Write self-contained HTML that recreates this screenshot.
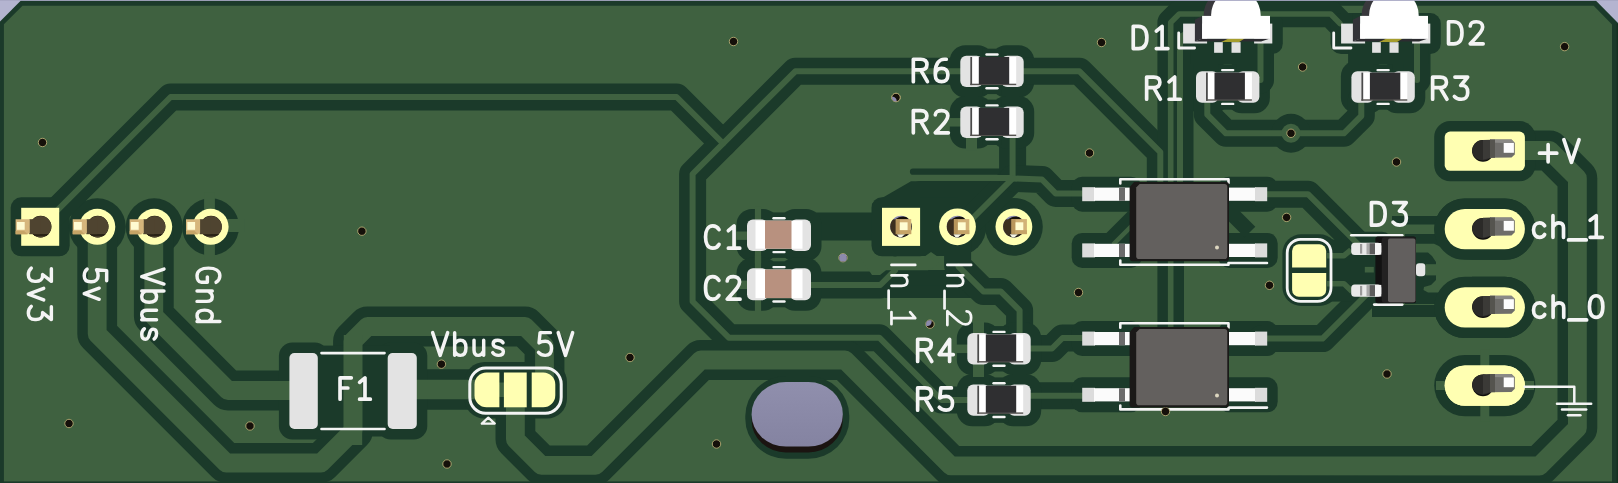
<!DOCTYPE html>
<html><head><meta charset="utf-8"><title>PCB</title>
<style>html,body{margin:0;padding:0;background:#3f6140;font-family:"Liberation Sans",sans-serif;}svg{display:block}</style>
</head><body>
<svg width="1618" height="483" viewBox="0 0 1618 483">
<rect x="0" y="0" width="1618" height="483" fill="#3f6140"/>
<g fill="none" stroke="#1b3a2a" stroke-linejoin="round" stroke-linecap="round">
<polygon points="0.0,20.7 20.7,0.0 1596.0,0.0 1618.0,22.3 1618.0,483.0 1612.0,483.0 1612.0,24.5 1593.7,5.7 22.5,5.7 3.9,24.3 3.9,483.0 0.0,483.0" stroke="none" fill="#1b3a2a"/>
<rect x="10.7" y="197.3" width="59.0" height="59.0" rx="10.5" stroke="none" fill="#1b3a2a"/>
<circle cx="97.3" cy="226.8" r="28.5" fill="#1b3a2a" stroke="none"/>
<circle cx="154.2" cy="226.8" r="28.5" fill="#1b3a2a" stroke="none"/>
<circle cx="210.6" cy="226.8" r="28.5" fill="#1b3a2a" stroke="none"/>
<polyline points="40.2,227.4 170.6,97.0 676.6,97.0 723.1,143.5" stroke-width="27.0" stroke-linecap="round"/>
<polyline points="966.0,71.3 795.3,71.3 692.6,174.0 692.6,301.5 728.8,337.7 879.3,337.7 941.6,400.0 975.0,400.0" stroke-width="27.0" stroke-linecap="round"/>
<polyline points="97.2,227.0 97.2,334.0 226.2,463.0 321.0,463.0 353.0,431.0 353.0,341.0 367.5,326.5 525.0,326.5 544.5,346.0 544.5,390.0" stroke-width="39.8" stroke-linecap="round"/>
<polyline points="153.8,227.0 153.8,316.0 228.0,390.5 303.0,390.5" stroke-width="39.8" stroke-linecap="round"/>
<polyline points="402.0,389.5 487.0,389.5" stroke-width="40.6" stroke-linecap="round"/>
<polyline points="515.4,392.0 515.4,439.3 541.4,465.3 595.5,465.3 700.8,360.0 845.0,360.0 950.8,465.8 1539.4,466.0 1577.4,428.0 1577.4,178.2 1549.7,150.5 1485.0,150.5" stroke-width="39.8" stroke-linecap="round"/>
<polyline points="800.0,226.4 890.0,226.4" stroke-width="28.0" stroke-linecap="butt"/>
<polyline points="800.0,285.0 880.3,285.0 895.0,270.3" stroke-width="27.0" stroke-linecap="round"/>
<polyline points="895.0,270.3 915.0,283.0" stroke-width="27.0" stroke-linecap="round"/>
<rect x="905.0" y="270.0" width="67.0" height="28.0" rx="0.0" stroke="none" fill="#1b3a2a"/>
<rect x="278.9" y="342.6" width="49.4" height="96.9" rx="13.5" stroke="none" fill="#1b3a2a"/>
<rect x="377.2" y="342.6" width="50.1" height="96.9" rx="13.5" stroke="none" fill="#1b3a2a"/>
<rect x="316.0" y="345.6" width="74.0" height="90.9" rx="0.0" stroke="none" fill="#1b3a2a"/>
<rect x="464.5" y="362.0" width="102.5" height="56.5" rx="20.0" stroke="none" fill="#1b3a2a"/>
<rect x="871.5" y="197.2" width="59.1" height="59.1" rx="10.5" stroke="none" fill="#1b3a2a"/>
<circle cx="957.5" cy="226.8" r="28.9" fill="#1b3a2a" stroke="none"/>
<circle cx="1013.9" cy="226.8" r="28.9" fill="#1b3a2a" stroke="none"/>
<polyline points="903.0,214.0 921.0,194.6 996.0,194.6" stroke-width="27.0" stroke-linecap="round"/>
<polygon points="872.5,203.5 911.0,181.3 930.0,181.3 930.0,215.0 872.5,215.0" stroke="none" fill="#1b3a2a"/>
<polyline points="913.0,171.7 1002.0,171.7" stroke-width="6.2" stroke-linecap="round"/>
<polyline points="1012.6,132.0 1012.6,178.5 966.0,225.0" stroke-width="27.0" stroke-linecap="round"/>
<polyline points="1012.6,178.5 1042.0,179.5 1055.6,193.4 1090.0,193.4" stroke-width="27.0" stroke-linecap="round"/>
<polyline points="957.6,226.7 957.6,265.6 983.4,291.4 1000.7,291.4 1019.6,310.3 1019.6,345.0" stroke-width="27.0" stroke-linecap="round"/>
<rect x="920.0" y="197.5" width="38.0" height="58.5" rx="0.0" stroke="none" fill="#1b3a2a"/>
<polyline points="1020.0,348.5 1052.0,348.5 1062.5,338.0 1090.0,338.0" stroke-width="27.0" stroke-linecap="round"/>
<polyline points="1020.0,395.8 1090.0,395.8" stroke-width="27.0" stroke-linecap="round"/>
<rect x="949.8" y="45.2" width="43.5" height="52.4" rx="15.5" stroke="none" fill="#1b3a2a"/>
<rect x="990.7" y="45.2" width="43.5" height="52.4" rx="15.5" stroke="none" fill="#1b3a2a"/>
<rect x="982.8" y="48.7" width="18.4" height="45.4" rx="0.0" stroke="none" fill="#1b3a2a"/>
<rect x="949.8" y="96.1" width="43.5" height="52.4" rx="15.5" stroke="none" fill="#1b3a2a"/>
<rect x="990.7" y="96.1" width="43.5" height="52.4" rx="15.5" stroke="none" fill="#1b3a2a"/>
<rect x="982.8" y="99.6" width="18.4" height="45.4" rx="0.0" stroke="none" fill="#1b3a2a"/>
<rect x="956.8" y="322.6" width="43.5" height="52.4" rx="15.5" stroke="none" fill="#1b3a2a"/>
<rect x="997.7" y="322.6" width="43.5" height="52.4" rx="15.5" stroke="none" fill="#1b3a2a"/>
<rect x="989.8" y="326.1" width="18.4" height="45.4" rx="0.0" stroke="none" fill="#1b3a2a"/>
<rect x="956.8" y="373.9" width="43.5" height="52.4" rx="15.5" stroke="none" fill="#1b3a2a"/>
<rect x="997.7" y="373.9" width="43.5" height="52.4" rx="15.5" stroke="none" fill="#1b3a2a"/>
<rect x="989.8" y="377.4" width="18.4" height="45.4" rx="0.0" stroke="none" fill="#1b3a2a"/>
<rect x="1185.5" y="60.8" width="43.5" height="52.4" rx="15.5" stroke="none" fill="#1b3a2a"/>
<rect x="1226.4" y="60.8" width="43.5" height="52.4" rx="15.5" stroke="none" fill="#1b3a2a"/>
<rect x="1218.5" y="64.3" width="18.4" height="45.4" rx="0.0" stroke="none" fill="#1b3a2a"/>
<rect x="1340.9" y="60.8" width="43.5" height="52.4" rx="15.5" stroke="none" fill="#1b3a2a"/>
<rect x="1381.8" y="60.8" width="43.5" height="52.4" rx="15.5" stroke="none" fill="#1b3a2a"/>
<rect x="1373.9" y="64.3" width="18.4" height="45.4" rx="0.0" stroke="none" fill="#1b3a2a"/>
<rect x="736.5" y="208.9" width="42.0" height="52.5" rx="15.5" stroke="none" fill="#1b3a2a"/>
<rect x="779.5" y="208.9" width="42.0" height="52.5" rx="15.5" stroke="none" fill="#1b3a2a"/>
<rect x="768.0" y="212.4" width="22.0" height="45.5" rx="0.0" stroke="none" fill="#1b3a2a"/>
<rect x="736.5" y="257.8" width="42.0" height="53.0" rx="15.5" stroke="none" fill="#1b3a2a"/>
<rect x="779.5" y="257.8" width="42.0" height="53.0" rx="15.5" stroke="none" fill="#1b3a2a"/>
<rect x="768.0" y="261.3" width="22.0" height="46.0" rx="0.0" stroke="none" fill="#1b3a2a"/>
<polyline points="1018.0,71.3 1079.5,71.3 1160.3,152.1 1160.3,185.0" stroke-width="27.0" stroke-linecap="round"/>
<polyline points="1170.7,330.0 1170.7,22.5 1179.2,14.0 1330.7,14.0 1340.0,23.5" stroke-width="26.6" stroke-linecap="round"/>
<polyline points="1180.0,185.0 1180.0,37.0 1186.0,34.0" stroke-width="27.0" stroke-linecap="round"/>
<polyline points="1175.3,30.0 1175.3,185.0" stroke-width="3.4" stroke-linecap="butt"/>
<rect x="1071.7" y="176.7" width="69.8" height="35.0" rx="10.5" stroke="none" fill="#1b3a2a"/>
<rect x="1218.5" y="176.7" width="59.2" height="35.0" rx="10.5" stroke="none" fill="#1b3a2a"/>
<rect x="1071.7" y="232.9" width="69.8" height="35.0" rx="10.5" stroke="none" fill="#1b3a2a"/>
<rect x="1218.5" y="232.9" width="59.2" height="35.0" rx="10.5" stroke="none" fill="#1b3a2a"/>
<rect x="1071.7" y="321.1" width="69.8" height="35.0" rx="10.5" stroke="none" fill="#1b3a2a"/>
<rect x="1218.5" y="321.1" width="59.2" height="35.0" rx="10.5" stroke="none" fill="#1b3a2a"/>
<rect x="1071.7" y="377.3" width="69.8" height="35.0" rx="10.5" stroke="none" fill="#1b3a2a"/>
<rect x="1218.5" y="377.3" width="59.2" height="35.0" rx="10.5" stroke="none" fill="#1b3a2a"/>
<polyline points="1108.0,250.5 1138.0,220.5" stroke-width="27.0" stroke-linecap="butt"/>
<polyline points="1226.0,208.0 1250.0,232.0" stroke-width="15.0" stroke-linecap="butt"/>
<polyline points="1262.0,194.2 1308.0,194.2 1363.3,249.5" stroke-width="27.0" stroke-linecap="round"/>
<polyline points="1207.3,100.0 1207.3,114.7 1225.9,133.3 1343.9,133.3 1361.3,116.0 1361.3,100.0" stroke-width="27.0" stroke-linecap="round"/>
<circle cx="1291" cy="133.3" r="19.5" fill="#1b3a2a" stroke="none"/>
<polyline points="1260.5,38.0 1260.5,80.0" stroke-width="27.0" stroke-linecap="round"/>
<polyline points="1417.0,38.0 1417.0,80.0" stroke-width="27.0" stroke-linecap="round"/>
<rect x="1172.6" y="13.1" width="42.0" height="40.9" rx="10.5" stroke="none" fill="#1b3a2a"/>
<rect x="1253.6" y="13.1" width="29.2" height="40.9" rx="10.5" stroke="none" fill="#1b3a2a"/>
<rect x="1203.6" y="31.7" width="47.5" height="31.6" rx="10.5" stroke="none" fill="#1b3a2a"/>
<rect x="1194.1" y="13.1" width="70.0" height="36.9" rx="0.0" stroke="none" fill="#1b3a2a"/>
<rect x="1190.1" y="44.0" width="80.0" height="20.0" rx="0.0" stroke="none" fill="#1b3a2a"/>
<rect x="1330.6" y="13.1" width="42.0" height="40.9" rx="10.5" stroke="none" fill="#1b3a2a"/>
<rect x="1411.6" y="13.1" width="29.2" height="40.9" rx="10.5" stroke="none" fill="#1b3a2a"/>
<rect x="1361.6" y="31.7" width="47.5" height="31.6" rx="10.5" stroke="none" fill="#1b3a2a"/>
<rect x="1352.1" y="13.1" width="70.0" height="36.9" rx="0.0" stroke="none" fill="#1b3a2a"/>
<rect x="1348.1" y="44.0" width="80.0" height="20.0" rx="0.0" stroke="none" fill="#1b3a2a"/>
<rect x="1340.2" y="231.8" width="52.3" height="34.0" rx="10.5" stroke="none" fill="#1b3a2a"/>
<rect x="1340.2" y="273.7" width="52.3" height="34.0" rx="10.5" stroke="none" fill="#1b3a2a"/>
<rect x="1282.4" y="234.3" width="56.1" height="71.7" rx="19.0" stroke="none" fill="#1b3a2a"/>
<rect x="1434.2" y="121.1" width="101.2" height="60.2" rx="16.0" stroke="none" fill="#1b3a2a"/>
<rect x="1434.2" y="198.4" width="101.2" height="61.4" rx="30.7" stroke="none" fill="#1b3a2a"/>
<rect x="1434.2" y="276.7" width="101.2" height="61.4" rx="30.7" stroke="none" fill="#1b3a2a"/>
<rect x="1434.2" y="354.9" width="101.2" height="61.4" rx="30.7" stroke="none" fill="#1b3a2a"/>
<polyline points="1392.0,220.3 1450.0,220.3" stroke-width="8.6" stroke-linecap="butt"/>
<polyline points="1262.0,338.6 1322.5,338.6 1369.1,292.0" stroke-width="27.0" stroke-linecap="round"/>
<polyline points="1372.0,311.0 1440.0,311.0" stroke-width="12.0" stroke-linecap="butt"/>
<rect x="1405.0" y="234.0" width="47.0" height="70.0" rx="0.0" stroke="none" fill="#1b3a2a"/>
<rect x="1336.0" y="243.0" width="42.0" height="55.0" rx="0.0" stroke="none" fill="#1b3a2a"/>
<polyline points="1330.0,249.5 1352.0,249.5" stroke-width="20.0" stroke-linecap="butt"/>
<polyline points="1330.0,291.6 1352.0,291.6" stroke-width="20.0" stroke-linecap="butt"/>
<rect x="745.3" y="376" width="104" height="82.7" rx="41" ry="40" fill="#1b3a2a" stroke="none"/>
<polyline points="885.0,291.8 950.0,291.8" stroke-width="12.5" stroke-linecap="butt"/>
</g>
<g fill="none" stroke="#3f6140" stroke-linejoin="round" stroke-linecap="round">
<polyline points="209.5,192.8 209.5,260.8" stroke-width="10.8" stroke-linecap="butt"/>
<polyline points="210.6,225.6 244.6,225.6" stroke-width="13.0" stroke-linecap="butt"/>
<polyline points="40.2,227.4 170.6,97.0 676.6,97.0 723.1,143.5" stroke-width="6.0" stroke-linecap="round"/>
<polyline points="966.0,71.3 795.3,71.3 692.6,174.0 692.6,301.5 728.8,337.7 879.3,337.7 941.6,400.0 975.0,400.0" stroke-width="6.0" stroke-linecap="round"/>
<polyline points="97.2,227.0 97.2,334.0 226.2,463.0 321.0,463.0 353.0,431.0 353.0,341.0 367.5,326.5 525.0,326.5 544.5,346.0 544.5,390.0" stroke-width="18.8" stroke-linecap="round"/>
<polyline points="153.8,227.0 153.8,316.0 228.0,390.5 303.0,390.5" stroke-width="18.8" stroke-linecap="round"/>
<polyline points="402.0,389.5 487.0,389.5" stroke-width="19.6" stroke-linecap="round"/>
<polyline points="515.4,392.0 515.4,439.3 541.4,465.3 595.5,465.3 700.8,360.0 845.0,360.0 950.8,465.8 1539.4,466.0 1577.4,428.0 1577.4,178.2 1549.7,150.5 1485.0,150.5" stroke-width="18.8" stroke-linecap="round"/>
<polyline points="800.0,285.0 880.3,285.0 895.0,270.3" stroke-width="6.0" stroke-linecap="round"/>
<polygon points="860.0,256.9 924.0,256.9 931.0,252.0 941.0,259.0 936.0,266.0 928.0,270.2 886.0,270.2 880.0,275.0 872.0,275.0" stroke="none" fill="#3f6140"/>
<polyline points="353.0,335.0 353.0,445.0" stroke-width="18.4" stroke-linecap="butt"/>
<polyline points="1012.6,132.0 1012.6,178.5 966.0,225.0" stroke-width="6.0" stroke-linecap="round"/>
<polyline points="1012.6,178.5 1042.0,179.5 1055.6,193.4 1090.0,193.4" stroke-width="6.0" stroke-linecap="round"/>
<polyline points="905.0,178.0 1012.0,178.0" stroke-width="6.2" stroke-linecap="butt"/>
<polyline points="958.6,266.6 983.4,291.4 1000.7,291.4 1019.6,310.3 1019.6,345.0" stroke-width="6.0" stroke-linecap="round"/>
<polyline points="1020.0,348.5 1052.0,348.5 1062.5,338.0 1090.0,338.0" stroke-width="6.0" stroke-linecap="round"/>
<polyline points="1020.0,395.8 1090.0,395.8" stroke-width="6.0" stroke-linecap="round"/>
<polyline points="947.8,122.3 962.3,122.3" stroke-width="8.5" stroke-linecap="butt"/>
<polyline points="971.5,136.0 971.5,150.5" stroke-width="11.0" stroke-linecap="butt"/>
<polyline points="978.5,335.1 978.5,320.6" stroke-width="11.0" stroke-linecap="butt"/>
<polyline points="954.8,348.8 969.3,348.8" stroke-width="8.5" stroke-linecap="butt"/>
<polyline points="978.5,362.5 978.5,377.0" stroke-width="11.0" stroke-linecap="butt"/>
<polyline points="758.0,221.4 758.0,206.9" stroke-width="6.2" stroke-linecap="butt"/>
<polyline points="758.0,248.9 758.0,263.4" stroke-width="6.2" stroke-linecap="butt"/>
<polyline points="734.5,235.7 749.0,235.7" stroke-width="8.4" stroke-linecap="butt"/>
<polyline points="758.0,270.3 758.0,255.8" stroke-width="6.2" stroke-linecap="butt"/>
<polyline points="758.0,298.3 758.0,312.8" stroke-width="6.2" stroke-linecap="butt"/>
<polyline points="734.5,284.8 749.0,284.8" stroke-width="8.4" stroke-linecap="butt"/>
<polyline points="1018.0,71.3 1079.5,71.3 1160.3,152.1 1160.3,185.0" stroke-width="6.0" stroke-linecap="round"/>
<polyline points="1170.7,330.0 1170.7,22.5 1179.2,14.0 1330.7,14.0 1340.0,23.5" stroke-width="5.6" stroke-linecap="round"/>
<polyline points="1180.0,185.0 1180.0,37.0 1186.0,34.0" stroke-width="6.0" stroke-linecap="round"/>
<polyline points="1113.0,244.7 1132.0,225.7" stroke-width="4.5" stroke-linecap="butt"/>
<polyline points="1262.0,194.2 1308.0,194.2 1363.3,249.5" stroke-width="6.0" stroke-linecap="round"/>
<polyline points="1207.3,100.0 1207.3,114.7 1225.9,133.3 1343.9,133.3 1361.3,116.0 1361.3,100.0" stroke-width="6.0" stroke-linecap="round"/>
<circle cx="1291" cy="133.3" r="9.5" fill="#3f6140" stroke="none"/>
<polyline points="1260.5,38.0 1260.5,80.0" stroke-width="6.0" stroke-linecap="round"/>
<polyline points="1417.0,38.0 1417.0,80.0" stroke-width="6.0" stroke-linecap="round"/>
<polyline points="1484.8,349.6 1484.8,421.6" stroke-width="9.0" stroke-linecap="butt"/>
<polyline points="1436.0,385.6 1534.0,385.6" stroke-width="9.0" stroke-linecap="butt"/>
<polyline points="1262.0,338.6 1322.5,338.6 1369.1,292.0" stroke-width="6.0" stroke-linecap="round"/>
<polygon points="1416.0,243.7 1434.0,243.7 1441.0,247.0 1448.0,254.0 1456.0,258.5 1472.0,260.0 1472.0,281.0 1456.0,283.0 1447.0,288.0 1440.0,292.5 1428.0,292.5 1423.5,290.0 1424.0,287.0 1431.0,285.0 1436.0,280.0 1436.0,262.0 1432.0,256.0 1428.0,252.5 1416.0,252.5" stroke="none" fill="#3f6140"/>
<rect x="1425.5" y="264.2" width="12.5" height="11.2" rx="0.0" stroke="none" fill="#3f6140"/>
<rect x="1364.8" y="266.9" width="9.0" height="5.6" rx="0.0" stroke="none" fill="#3f6140"/>
</g>
<g fill="none" stroke="#1b3a2a" stroke-linejoin="round" stroke-linecap="round">
<rect x="0" y="481.4" width="1618" height="1.6" fill="#1b3a2a" stroke="none"/>
<rect x="1439.5" y="203.7" width="90.7" height="50.9" rx="25.4" fill="none" stroke-width="10.5"/>
<rect x="1439.5" y="281.9" width="90.7" height="50.9" rx="25.4" fill="none" stroke-width="10.5"/>
</g>
<g fill="none" stroke="#3f6140" stroke-linejoin="round" stroke-linecap="round">
<rect x="498.8" y="382.5" width="5.5" height="14.5" fill="#3f6140" stroke="none"/>
<polyline points="1327,255.7 1344,255.7 1351,249.8" stroke-width="5.5" stroke-linecap="butt"/>
<polyline points="1327,283.7 1344,283.7 1352,291.4" stroke-width="5.5" stroke-linecap="butt"/>
</g>
<rect x="21.2" y="207.8" width="38.0" height="38.0" rx="0.0" fill="#ffffb2" />
<circle cx="97.3" cy="226.8" r="18.0" fill="#ffffb2" />
<circle cx="154.2" cy="226.8" r="18.0" fill="#ffffb2" />
<circle cx="210.6" cy="226.8" r="18.0" fill="#ffffb2" />
<path d="M499.4,372.5 L486.5,372.5 A12,12 0 0 0 474.5,384.5 L474.5,395.3 A12,12 0 0 0 486.5,407.3 L499.4,407.3 Z" fill="#ffffb2"/>
<rect x="503.9" y="372.5" width="22.8" height="34.8" rx="0.0" fill="#ffffb2" />
<path d="M531.7,372.5 L543.3,372.5 A12,12 0 0 1 555.3,384.5 L555.3,395.3 A12,12 0 0 1 543.3,407.3 L531.7,407.3 Z" fill="#ffffb2"/>
<rect x="882.0" y="207.8" width="38.1" height="38.1" rx="0.0" fill="#ffffb2" />
<circle cx="957.5" cy="226.8" r="18.4" fill="#ffffb2" />
<circle cx="1013.9" cy="226.8" r="18.4" fill="#ffffb2" />
<path d="M1292.1,267.5 L1292.1,251 A6.8,6.8 0 0 1 1298.9,244.2 L1319.4,244.2 A6.8,6.8 0 0 1 1326.2,251 L1326.2,267.5 Z" fill="#ffffb2"/>
<path d="M1292.1,273 L1292.1,289.9 A6.8,6.8 0 0 0 1298.9,296.7 L1319.4,296.7 A6.8,6.8 0 0 0 1326.2,289.9 L1326.2,273 Z" fill="#ffffb2"/>
<rect x="1444.7" y="131.6" width="80.2" height="39.2" rx="5.5" fill="#ffffb2" />
<rect x="1444.7" y="208.9" width="80.2" height="40.4" rx="20.2" fill="#ffffb2" />
<rect x="1444.7" y="287.2" width="80.2" height="40.4" rx="20.2" fill="#ffffb2" />
<rect x="1444.7" y="365.4" width="80.2" height="40.4" rx="20.2" fill="#ffffb2" />
<rect x="1444.7" y="365.4" width="80.2" height="40.4" rx="20.2" fill="#ffffb2" />
<polyline points="321.5,353.1 384.5,353.1" fill="none" stroke="#f4f4f4" stroke-width="2.6" stroke-linecap="round" stroke-linejoin="round"/>
<polyline points="321.5,429.0 384.5,429.0" fill="none" stroke="#f4f4f4" stroke-width="2.6" stroke-linecap="round" stroke-linejoin="round"/>
<g transform="translate(336.12,377.84) scale(0.9782,1.0155)" fill="none" stroke="#f4f4f4" stroke-width="3.68" stroke-linecap="round" stroke-linejoin="round" vector-effect="non-scaling-stroke"><path vector-effect="non-scaling-stroke" transform="translate(0.00,0)" d="M4,21 L4,0 L15.5,0 M4,10 L12,10"/><path vector-effect="non-scaling-stroke" transform="translate(19.00,0)" d="M5,4.5 L10.5,0 L10.5,21 M5,21 L16,21"/></g>
<rect x="469.8" y="368.1" width="91.4" height="45.2" rx="16" fill="none" stroke="#f4f4f4" stroke-width="3"/>
<polygon points="481.8,423.6 494.8,423.6 488.3,417.6" fill="none" stroke="#f4f4f4" stroke-width="2.3" stroke-linejoin="round"/>
<g transform="translate(429.94,332.63) scale(1.0750,1.0826)" fill="none" stroke="#f4f4f4" stroke-width="3.46" stroke-linecap="round" stroke-linejoin="round" vector-effect="non-scaling-stroke"><path vector-effect="non-scaling-stroke" transform="translate(0.00,0)" d="M2.5,0 L9.5,21 L16.5,0"/><path vector-effect="non-scaling-stroke" transform="translate(19.00,0)" d="M4,0 L4,21 M4,10.5 C5,8.5 7,7 9.3,7 C12.5,7 14.5,9.5 14.5,14 C14.5,18.5 12.5,21 9.3,21 C7,21 5,19.5 4,17.5"/><path vector-effect="non-scaling-stroke" transform="translate(37.00,0)" d="M4,7 L4,16 C4,19.5 5.3,21 8,21 C10,21 11.8,19.5 13,17 M13,7 L13,21"/><path vector-effect="non-scaling-stroke" transform="translate(55.00,0)" d="M13,9.3 C12,7.8 10.3,7 8,7 C5.6,7 3.8,8 3.8,10.2 C3.8,12.3 5.6,13.2 8,13.7 C11,14.3 13.3,15 13.3,17.5 C13.3,20 11,21 8.6,21 C6.2,21 4.4,20 3.4,18.5"/></g>
<g transform="translate(534.91,332.63) scale(1.0344,1.0826)" fill="none" stroke="#f4f4f4" stroke-width="3.46" stroke-linecap="round" stroke-linejoin="round" vector-effect="non-scaling-stroke"><path vector-effect="non-scaling-stroke" transform="translate(0.00,0)" d="M15,0 L5,0 L4,9.5 C5.5,8.5 7.5,8 10,8 C13.5,8 16,10.5 16,14 L16,15 C16,19 13.5,21 10,21 C7,21 5,20 3.5,18.3"/><path vector-effect="non-scaling-stroke" transform="translate(20.00,0)" d="M2.5,0 L9.5,21 L16.5,0"/></g>
<g transform="matrix(0,1.0605,-1.0969,0,51.37,264.42)" fill="none" stroke="#f4f4f4" stroke-width="3.46" stroke-linecap="round" stroke-linejoin="round" vector-effect="non-scaling-stroke"><path vector-effect="non-scaling-stroke" transform="translate(0.00,0)" d="M4,0 L16,0 L9.5,8 L11,8 C14,8 16,10.5 16,14 L16,15 C16,19 13.5,21 10,21 C7,21 5,20 3.5,18.3"/><path vector-effect="non-scaling-stroke" transform="translate(20.00,0)" d="M2.5,7 L8,21 L13.5,7"/><path vector-effect="non-scaling-stroke" transform="translate(36.00,0)" d="M4,0 L16,0 L9.5,8 L11,8 C14,8 16,10.5 16,14 L16,15 C16,19 13.5,21 10,21 C7,21 5,20 3.5,18.3"/></g>
<g transform="matrix(0,1.0045,-1.0683,0,106.67,265.62)" fill="none" stroke="#f4f4f4" stroke-width="3.46" stroke-linecap="round" stroke-linejoin="round" vector-effect="non-scaling-stroke"><path vector-effect="non-scaling-stroke" transform="translate(0.00,0)" d="M15,0 L5,0 L4,9.5 C5.5,8.5 7.5,8 10,8 C13.5,8 16,10.5 16,14 L16,15 C16,19 13.5,21 10,21 C7,21 5,20 3.5,18.3"/><path vector-effect="non-scaling-stroke" transform="translate(20.00,0)" d="M2.5,7 L8,21 L13.5,7"/></g>
<g transform="matrix(0,1.0659,-1.0588,0,163.97,266.47)" fill="none" stroke="#f4f4f4" stroke-width="3.46" stroke-linecap="round" stroke-linejoin="round" vector-effect="non-scaling-stroke"><path vector-effect="non-scaling-stroke" transform="translate(0.00,0)" d="M2.5,0 L9.5,21 L16.5,0"/><path vector-effect="non-scaling-stroke" transform="translate(19.00,0)" d="M4,0 L4,21 M4,10.5 C5,8.5 7,7 9.3,7 C12.5,7 14.5,9.5 14.5,14 C14.5,18.5 12.5,21 9.3,21 C7,21 5,19.5 4,17.5"/><path vector-effect="non-scaling-stroke" transform="translate(37.00,0)" d="M4,7 L4,16 C4,19.5 5.3,21 8,21 C10,21 11.8,19.5 13,17 M13,7 L13,21"/><path vector-effect="non-scaling-stroke" transform="translate(55.00,0)" d="M13,9.3 C12,7.8 10.3,7 8,7 C5.6,7 3.8,8 3.8,10.2 C3.8,12.3 5.6,13.2 8,13.7 C11,14.3 13.3,15 13.3,17.5 C13.3,20 11,21 8.6,21 C6.2,21 4.4,20 3.4,18.5"/></g>
<g transform="matrix(0,1.0905,-1.0874,0,219.87,263.77)" fill="none" stroke="#f4f4f4" stroke-width="3.46" stroke-linecap="round" stroke-linejoin="round" vector-effect="non-scaling-stroke"><path vector-effect="non-scaling-stroke" transform="translate(0.00,0)" d="M17,3.5 C15.5,1 13.5,0 11,0 C6.5,0 4,4 4,10.5 C4,17 6.5,21 11,21 C14,21 17,19.5 17,17 L17,11.5 L12,11.5"/><path vector-effect="non-scaling-stroke" transform="translate(21.00,0)" d="M4,7 L4,21 M4,11 C5.3,8.5 7,7 9.3,7 C12,7 13.5,8.5 13.5,12 L13.5,21"/><path vector-effect="non-scaling-stroke" transform="translate(39.00,0)" d="M14,0 L14,21 M14,10.5 C13,8.5 11,7 8.7,7 C5.5,7 3.5,9.5 3.5,14 C3.5,18.5 5.5,21 8.7,21 C11,21 13,19.5 14,17.5"/></g>
<polyline points="986.5,54.5 997.5,54.5" fill="none" stroke="#f4f4f4" stroke-width="2.4" stroke-linecap="round" stroke-linejoin="round"/>
<polyline points="986.5,88.3 997.5,88.3" fill="none" stroke="#f4f4f4" stroke-width="2.4" stroke-linecap="round" stroke-linejoin="round"/>
<polyline points="986.5,105.4 997.5,105.4" fill="none" stroke="#f4f4f4" stroke-width="2.4" stroke-linecap="round" stroke-linejoin="round"/>
<polyline points="986.5,139.2 997.5,139.2" fill="none" stroke="#f4f4f4" stroke-width="2.4" stroke-linecap="round" stroke-linejoin="round"/>
<polyline points="993.5,331.9 1004.5,331.9" fill="none" stroke="#f4f4f4" stroke-width="2.4" stroke-linecap="round" stroke-linejoin="round"/>
<polyline points="993.5,365.7 1004.5,365.7" fill="none" stroke="#f4f4f4" stroke-width="2.4" stroke-linecap="round" stroke-linejoin="round"/>
<polyline points="993.5,383.2 1004.5,383.2" fill="none" stroke="#f4f4f4" stroke-width="2.4" stroke-linecap="round" stroke-linejoin="round"/>
<polyline points="993.5,417.0 1004.5,417.0" fill="none" stroke="#f4f4f4" stroke-width="2.4" stroke-linecap="round" stroke-linejoin="round"/>
<polyline points="1222.2,70.1 1233.2,70.1" fill="none" stroke="#f4f4f4" stroke-width="2.4" stroke-linecap="round" stroke-linejoin="round"/>
<polyline points="1222.2,103.9 1233.2,103.9" fill="none" stroke="#f4f4f4" stroke-width="2.4" stroke-linecap="round" stroke-linejoin="round"/>
<polyline points="1377.6,70.1 1388.6,70.1" fill="none" stroke="#f4f4f4" stroke-width="2.4" stroke-linecap="round" stroke-linejoin="round"/>
<polyline points="1377.6,103.9 1388.6,103.9" fill="none" stroke="#f4f4f4" stroke-width="2.4" stroke-linecap="round" stroke-linejoin="round"/>
<g transform="translate(909.15,59.24) scale(1.0462,1.0679)" fill="none" stroke="#f4f4f4" stroke-width="3.68" stroke-linecap="round" stroke-linejoin="round" vector-effect="non-scaling-stroke"><path vector-effect="non-scaling-stroke" transform="translate(0.00,0)" d="M4,21 L4,0 L11,0 C15.5,0 17,2.5 17,5 C17,7.8 15.5,10 11,10 L4,10 M11,10 L17.5,21"/><path vector-effect="non-scaling-stroke" transform="translate(21.00,0)" d="M14.5,0 L12.5,0 C8,0 4,4 4,12 L4,15 C4,19 6.5,21 10,21 C13.5,21 16,19 16,15 L16,14.3 C16,10.5 13.5,8.5 10,8.5 C6.5,8.5 4,11 4,14.5"/></g>
<g transform="translate(909.16,110.54) scale(1.0455,1.0631)" fill="none" stroke="#f4f4f4" stroke-width="3.68" stroke-linecap="round" stroke-linejoin="round" vector-effect="non-scaling-stroke"><path vector-effect="non-scaling-stroke" transform="translate(0.00,0)" d="M4,21 L4,0 L11,0 C15.5,0 17,2.5 17,5 C17,7.8 15.5,10 11,10 L4,10 M11,10 L17.5,21"/><path vector-effect="non-scaling-stroke" transform="translate(21.00,0)" d="M4,4 C4,1.5 6.5,0 10,0 C13.5,0 16,1.8 16,5 C16,8 14,10.5 4,21 L16.5,21"/></g>
<g transform="translate(913.45,339.24) scale(1.0478,1.0583)" fill="none" stroke="#f4f4f4" stroke-width="3.68" stroke-linecap="round" stroke-linejoin="round" vector-effect="non-scaling-stroke"><path vector-effect="non-scaling-stroke" transform="translate(0.00,0)" d="M4,21 L4,0 L11,0 C15.5,0 17,2.5 17,5 C17,7.8 15.5,10 11,10 L4,10 M11,10 L17.5,21"/><path vector-effect="non-scaling-stroke" transform="translate(21.00,0)" d="M13.5,21 L13.5,0 L3.5,14.5 L17,14.5"/></g>
<g transform="translate(913.42,387.94) scale(1.0553,1.0583)" fill="none" stroke="#f4f4f4" stroke-width="3.68" stroke-linecap="round" stroke-linejoin="round" vector-effect="non-scaling-stroke"><path vector-effect="non-scaling-stroke" transform="translate(0.00,0)" d="M4,21 L4,0 L11,0 C15.5,0 17,2.5 17,5 C17,7.8 15.5,10 11,10 L4,10 M11,10 L17.5,21"/><path vector-effect="non-scaling-stroke" transform="translate(21.00,0)" d="M15,0 L5,0 L4,9.5 C5.5,8.5 7.5,8 10,8 C13.5,8 16,10.5 16,14 L16,15 C16,19 13.5,21 10,21 C7,21 5,20 3.5,18.3"/></g>
<g transform="translate(1142.56,77.04) scale(1.0189,1.0583)" fill="none" stroke="#f4f4f4" stroke-width="3.68" stroke-linecap="round" stroke-linejoin="round" vector-effect="non-scaling-stroke"><path vector-effect="non-scaling-stroke" transform="translate(0.00,0)" d="M4,21 L4,0 L11,0 C15.5,0 17,2.5 17,5 C17,7.8 15.5,10 11,10 L4,10 M11,10 L17.5,21"/><path vector-effect="non-scaling-stroke" transform="translate(21.00,0)" d="M5,4.5 L10.5,0 L10.5,21 M5,21 L16,21"/></g>
<g transform="translate(1428.39,77.04) scale(1.0614,1.0583)" fill="none" stroke="#f4f4f4" stroke-width="3.68" stroke-linecap="round" stroke-linejoin="round" vector-effect="non-scaling-stroke"><path vector-effect="non-scaling-stroke" transform="translate(0.00,0)" d="M4,21 L4,0 L11,0 C15.5,0 17,2.5 17,5 C17,7.8 15.5,10 11,10 L4,10 M11,10 L17.5,21"/><path vector-effect="non-scaling-stroke" transform="translate(21.00,0)" d="M4,0 L16,0 L9.5,8 L11,8 C14,8 16,10.5 16,14 L16,15 C16,19 13.5,21 10,21 C7,21 5,20 3.5,18.3"/></g>
<polyline points="773.5,218.2 784.5,218.2" fill="none" stroke="#f4f4f4" stroke-width="2.4" stroke-linecap="round" stroke-linejoin="round"/>
<polyline points="773.5,252.1 784.5,252.1" fill="none" stroke="#f4f4f4" stroke-width="2.4" stroke-linecap="round" stroke-linejoin="round"/>
<polyline points="773.5,267.1 784.5,267.1" fill="none" stroke="#f4f4f4" stroke-width="2.4" stroke-linecap="round" stroke-linejoin="round"/>
<polyline points="773.5,301.5 784.5,301.5" fill="none" stroke="#f4f4f4" stroke-width="2.4" stroke-linecap="round" stroke-linejoin="round"/>
<g transform="translate(701.39,225.94) scale(1.0371,1.0583)" fill="none" stroke="#f4f4f4" stroke-width="3.68" stroke-linecap="round" stroke-linejoin="round" vector-effect="non-scaling-stroke"><path vector-effect="non-scaling-stroke" transform="translate(0.00,0)" d="M17,3.5 C15.5,1 13.5,0 11,0 C6.5,0 4,4 4,10.5 C4,17 6.5,21 11,21 C13.5,21 15.5,20 17,17.5"/><path vector-effect="non-scaling-stroke" transform="translate(21.00,0)" d="M5,4.5 L10.5,0 L10.5,21 M5,21 L16,21"/></g>
<g transform="translate(701.42,276.64) scale(1.0306,1.0726)" fill="none" stroke="#f4f4f4" stroke-width="3.68" stroke-linecap="round" stroke-linejoin="round" vector-effect="non-scaling-stroke"><path vector-effect="non-scaling-stroke" transform="translate(0.00,0)" d="M17,3.5 C15.5,1 13.5,0 11,0 C6.5,0 4,4 4,10.5 C4,17 6.5,21 11,21 C13.5,21 15.5,20 17,17.5"/><path vector-effect="non-scaling-stroke" transform="translate(21.00,0)" d="M4,4 C4,1.5 6.5,0 10,0 C13.5,0 16,1.8 16,5 C16,8 14,10.5 4,21 L16.5,21"/></g>
<polyline points="1120.3,183.5 1120.3,179.2 1228.5,179.2 1228.5,183.0" fill="none" stroke="#f4f4f4" stroke-width="2.6" stroke-linecap="round" stroke-linejoin="round"/>
<polyline points="1120.3,260.5 1120.3,264.8 1228.5,264.8 1228.5,263.0 1267.0,263.0" fill="none" stroke="#f4f4f4" stroke-width="2.6" stroke-linecap="round" stroke-linejoin="round"/>
<polyline points="1120.3,327.8 1120.3,323.3 1228.5,323.3 1228.5,327.8" fill="none" stroke="#f4f4f4" stroke-width="2.6" stroke-linecap="round" stroke-linejoin="round"/>
<polyline points="1120.3,405.5 1120.3,409.4 1228.5,409.4 1228.5,407.6 1267.0,407.6" fill="none" stroke="#f4f4f4" stroke-width="2.6" stroke-linecap="round" stroke-linejoin="round"/>
<polyline points="1178.7,32.8 1178.7,48.0 1194.6,48.0" fill="none" stroke="#f4f4f4" stroke-width="2.8" stroke-linecap="round" stroke-linejoin="round"/>
<polyline points="1333.7,32.8 1333.7,48.0 1351.0,48.0" fill="none" stroke="#f4f4f4" stroke-width="2.8" stroke-linecap="round" stroke-linejoin="round"/>
<g transform="translate(1129.04,26.34) scale(1.0492,1.0583)" fill="none" stroke="#f4f4f4" stroke-width="3.68" stroke-linecap="round" stroke-linejoin="round" vector-effect="non-scaling-stroke"><path vector-effect="non-scaling-stroke" transform="translate(0.00,0)" d="M4,0 L4,21 L9,21 C14.5,21 17,17 17,10.5 C17,4 14.5,0 9,0 L4,0"/><path vector-effect="non-scaling-stroke" transform="translate(21.00,0)" d="M5,4.5 L10.5,0 L10.5,21 M5,21 L16,21"/></g>
<g transform="translate(1444.40,21.74) scale(1.0336,1.0536)" fill="none" stroke="#f4f4f4" stroke-width="3.68" stroke-linecap="round" stroke-linejoin="round" vector-effect="non-scaling-stroke"><path vector-effect="non-scaling-stroke" transform="translate(0.00,0)" d="M4,0 L4,21 L9,21 C14.5,21 17,17 17,10.5 C17,4 14.5,0 9,0 L4,0"/><path vector-effect="non-scaling-stroke" transform="translate(21.00,0)" d="M4,4 C4,1.5 6.5,0 10,0 C13.5,0 16,1.8 16,5 C16,8 14,10.5 4,21 L16.5,21"/></g>
<polyline points="1351.3,235.2 1402.3,235.2" fill="none" stroke="#f4f4f4" stroke-width="2.6" stroke-linecap="round" stroke-linejoin="round"/>
<polyline points="1374.2,304.6 1402.3,304.6" fill="none" stroke="#f4f4f4" stroke-width="2.6" stroke-linecap="round" stroke-linejoin="round"/>
<g transform="translate(1367.22,202.54) scale(1.0553,1.0774)" fill="none" stroke="#f4f4f4" stroke-width="3.68" stroke-linecap="round" stroke-linejoin="round" vector-effect="non-scaling-stroke"><path vector-effect="non-scaling-stroke" transform="translate(0.00,0)" d="M4,0 L4,21 L9,21 C14.5,21 17,17 17,10.5 C17,4 14.5,0 9,0 L4,0"/><path vector-effect="non-scaling-stroke" transform="translate(21.00,0)" d="M4,0 L16,0 L9.5,8 L11,8 C14,8 16,10.5 16,14 L16,15 C16,19 13.5,21 10,21 C7,21 5,20 3.5,18.3"/></g>
<rect x="1287.2" y="239.4" width="43.8" height="62" rx="13.5" fill="none" stroke="#f4f4f4" stroke-width="2.8"/>
<g transform="translate(1535.10,139.64) scale(1.0856,1.0821)" fill="none" stroke="#f4f4f4" stroke-width="3.68" stroke-linecap="round" stroke-linejoin="round" vector-effect="non-scaling-stroke"><path vector-effect="non-scaling-stroke" transform="translate(0.00,0)" d="M4,12.5 L20,12.5 M12,4.5 L12,20.5"/><path vector-effect="non-scaling-stroke" transform="translate(24.00,0)" d="M2.5,0 L9.5,21 L16.5,0"/></g>
<g transform="translate(1529.65,215.64) scale(1.1101,1.0345)" fill="none" stroke="#f4f4f4" stroke-width="3.68" stroke-linecap="round" stroke-linejoin="round" vector-effect="non-scaling-stroke"><path vector-effect="non-scaling-stroke" transform="translate(0.00,0)" d="M13.5,9.8 C12.5,8 11,7 9,7 C5.8,7 3.5,9.5 3.5,14 C3.5,18.5 5.8,21 9,21 C11,21 12.5,20 13.5,18.2"/><path vector-effect="non-scaling-stroke" transform="translate(17.00,0)" d="M4,0 L4,21 M4,11 C5.3,8.5 7,7 9.3,7 C12,7 13.5,8.5 13.5,12 L13.5,21"/><path vector-effect="non-scaling-stroke" transform="translate(35.00,0)" d="M0,23.5 L16,23.5"/><path vector-effect="non-scaling-stroke" transform="translate(49.50,0)" d="M5,4.5 L10.5,0 L10.5,21 M5,21 L16,21"/></g>
<g transform="translate(1529.62,295.74) scale(1.1181,1.0298)" fill="none" stroke="#f4f4f4" stroke-width="3.68" stroke-linecap="round" stroke-linejoin="round" vector-effect="non-scaling-stroke"><path vector-effect="non-scaling-stroke" transform="translate(0.00,0)" d="M13.5,9.8 C12.5,8 11,7 9,7 C5.8,7 3.5,9.5 3.5,14 C3.5,18.5 5.8,21 9,21 C11,21 12.5,20 13.5,18.2"/><path vector-effect="non-scaling-stroke" transform="translate(17.00,0)" d="M4,0 L4,21 M4,11 C5.3,8.5 7,7 9.3,7 C12,7 13.5,8.5 13.5,12 L13.5,21"/><path vector-effect="non-scaling-stroke" transform="translate(35.00,0)" d="M0,23.5 L16,23.5"/><path vector-effect="non-scaling-stroke" transform="translate(49.50,0)" d="M10,0 C6,0 4,4 4,10.5 C4,17 6,21 10,21 C14,21 16,17 16,10.5 C16,4 14,0 10,0 Z"/></g>
<polyline points="1524.6,386.7 1574.3,386.7 1574.3,403.7" fill="none" stroke="#f4f4f4" stroke-width="2.5" stroke-linecap="round" stroke-linejoin="round"/>
<polyline points="1557.0,403.7 1591.2,403.7" fill="none" stroke="#f4f4f4" stroke-width="2.5" stroke-linecap="round" stroke-linejoin="round"/>
<polyline points="1562.0,409.5 1586.2,409.5" fill="none" stroke="#f4f4f4" stroke-width="2.5" stroke-linecap="round" stroke-linejoin="round"/>
<polyline points="1568.0,415.3 1580.4,415.3" fill="none" stroke="#f4f4f4" stroke-width="2.5" stroke-linecap="round" stroke-linejoin="round"/>
<g transform="matrix(0,1.0957,-1.1319,0,915.24,260.58)" fill="none" stroke="#f4f4f4" stroke-width="2.73" stroke-linecap="round" stroke-linejoin="round" vector-effect="non-scaling-stroke"><path vector-effect="non-scaling-stroke" transform="translate(0.00,0)" d="M4,0 L4,21"/><path vector-effect="non-scaling-stroke" transform="translate(9.50,0)" d="M4,7 L4,21 M4,11 C5.3,8.5 7,7 9.3,7 C12,7 13.5,8.5 13.5,12 L13.5,21"/><path vector-effect="non-scaling-stroke" transform="translate(27.50,0)" d="M0,23.5 L16,23.5"/><path vector-effect="non-scaling-stroke" transform="translate(42.00,0)" d="M5,4.5 L10.5,0 L10.5,21 M5,21 L16,21"/></g>
<g transform="matrix(0,1.1022,-1.1319,0,971.13,260.56)" fill="none" stroke="#f4f4f4" stroke-width="2.73" stroke-linecap="round" stroke-linejoin="round" vector-effect="non-scaling-stroke"><path vector-effect="non-scaling-stroke" transform="translate(0.00,0)" d="M4,0 L4,21"/><path vector-effect="non-scaling-stroke" transform="translate(9.50,0)" d="M4,7 L4,21 M4,11 C5.3,8.5 7,7 9.3,7 C12,7 13.5,8.5 13.5,12 L13.5,21"/><path vector-effect="non-scaling-stroke" transform="translate(27.50,0)" d="M0,23.5 L16,23.5"/><path vector-effect="non-scaling-stroke" transform="translate(42.00,0)" d="M4,4 C4,1.5 6.5,0 10,0 C13.5,0 16,1.8 16,5 C16,8 14,10.5 4,21 L16.5,21"/></g>
<circle cx="42.5" cy="142.5" r="4.2" fill="#15100a" stroke="#cfc283" stroke-opacity="0.75" stroke-width="1.0"/>
<circle cx="361.9" cy="231.2" r="4.2" fill="#15100a" stroke="#cfc283" stroke-opacity="0.75" stroke-width="1.0"/>
<circle cx="69.0" cy="423.5" r="4.2" fill="#15100a" stroke="#cfc283" stroke-opacity="0.75" stroke-width="1.0"/>
<circle cx="250.0" cy="426.0" r="4.2" fill="#15100a" stroke="#cfc283" stroke-opacity="0.75" stroke-width="1.0"/>
<circle cx="441.4" cy="364.2" r="4.2" fill="#15100a" stroke="#cfc283" stroke-opacity="0.75" stroke-width="1.0"/>
<circle cx="447.0" cy="464.0" r="4.2" fill="#15100a" stroke="#cfc283" stroke-opacity="0.75" stroke-width="1.0"/>
<circle cx="630.0" cy="357.5" r="4.2" fill="#15100a" stroke="#cfc283" stroke-opacity="0.75" stroke-width="1.0"/>
<circle cx="716.5" cy="444.0" r="4.2" fill="#15100a" stroke="#cfc283" stroke-opacity="0.75" stroke-width="1.0"/>
<circle cx="733.5" cy="41.5" r="4.2" fill="#15100a" stroke="#cfc283" stroke-opacity="0.75" stroke-width="1.0"/>
<circle cx="896.0" cy="97.5" r="4.2" fill="#15100a" stroke="#cfc283" stroke-opacity="0.75" stroke-width="1.0"/>
<circle cx="843.0" cy="257.7" r="4.2" fill="#15100a" stroke="#cfc283" stroke-opacity="0.75" stroke-width="1.0"/>
<circle cx="843.0" cy="257.7" r="3.9" fill="#8b8aac"/>
<circle cx="930.0" cy="324.2" r="4.2" fill="#15100a" stroke="#cfc283" stroke-opacity="0.75" stroke-width="1.0"/>
<clipPath id="v930_324"><circle cx="930.0" cy="324.2" r="4.0"/></clipPath>
<circle cx="927.5" cy="321.7" r="4.2" fill="#8b8aac" clip-path="url(#v930_324)"/>
<circle cx="896.0" cy="97.5" r="4.2" fill="#15100a" stroke="#cfc283" stroke-opacity="0.75" stroke-width="1.0"/>
<clipPath id="v896_97"><circle cx="896.0" cy="97.5" r="4.0"/></clipPath>
<circle cx="892.5" cy="101.0" r="4.2" fill="#8b8aac" clip-path="url(#v896_97)"/>
<circle cx="1101.5" cy="42.5" r="4.2" fill="#15100a" stroke="#cfc283" stroke-opacity="0.75" stroke-width="1.0"/>
<circle cx="1089.5" cy="153.0" r="4.2" fill="#15100a" stroke="#cfc283" stroke-opacity="0.75" stroke-width="1.0"/>
<circle cx="1302.6" cy="67.0" r="4.2" fill="#15100a" stroke="#cfc283" stroke-opacity="0.75" stroke-width="1.0"/>
<circle cx="1291.0" cy="133.3" r="4.2" fill="#15100a" stroke="#cfc283" stroke-opacity="0.75" stroke-width="1.0"/>
<circle cx="1396.5" cy="162.0" r="4.2" fill="#15100a" stroke="#cfc283" stroke-opacity="0.75" stroke-width="1.0"/>
<circle cx="1286.6" cy="217.4" r="4.2" fill="#15100a" stroke="#cfc283" stroke-opacity="0.75" stroke-width="1.0"/>
<circle cx="1269.5" cy="285.3" r="4.2" fill="#15100a" stroke="#cfc283" stroke-opacity="0.75" stroke-width="1.0"/>
<circle cx="1078.5" cy="292.5" r="4.2" fill="#15100a" stroke="#cfc283" stroke-opacity="0.75" stroke-width="1.0"/>
<circle cx="1165.5" cy="411.5" r="4.2" fill="#15100a" stroke="#cfc283" stroke-opacity="0.75" stroke-width="1.0"/>
<circle cx="1387.0" cy="374.0" r="4.2" fill="#15100a" stroke="#cfc283" stroke-opacity="0.75" stroke-width="1.0"/>
<circle cx="1564.6" cy="46.6" r="4.2" fill="#15100a" stroke="#cfc283" stroke-opacity="0.75" stroke-width="1.0"/>
<clipPath id="j1h0"><circle cx="40.6" cy="226.6" r="10.8"/></clipPath>
<circle cx="40.6" cy="226.6" r="10.8" fill="#16120c" />
<circle cx="40.8" cy="227.6" r="11.5" fill="#4f4430" clip-path="url(#j1h0)"/>
<rect x="28.2" y="234.0" width="24" height="2.2" fill="#2a2316" clip-path="url(#j1h0)"/>
<rect x="29.2" y="219.2" width="11.0" height="15.0" rx="0.0" fill="#4f4430" />
<polygon points="15.6,219.2 29.7,219.2 29.7,233.0 27.2,234.2 15.6,234.2" fill="#d6b67c"/>
<polygon points="15.6,231.0 24.2,231.0 27.7,234.2 15.6,234.2" fill="#c6a466"/>
<rect x="16.9" y="222.0" width="7.8" height="7.8" rx="0.0" fill="#fffbd2" />
<clipPath id="j1h1"><circle cx="97.7" cy="226.6" r="10.8"/></clipPath>
<circle cx="97.7" cy="226.6" r="10.8" fill="#16120c" />
<circle cx="97.9" cy="227.6" r="11.5" fill="#4f4430" clip-path="url(#j1h1)"/>
<rect x="85.3" y="234.0" width="24" height="2.2" fill="#2a2316" clip-path="url(#j1h1)"/>
<rect x="86.3" y="219.2" width="11.0" height="15.0" rx="0.0" fill="#4f4430" />
<polygon points="72.7,219.2 86.8,219.2 86.8,233.0 84.3,234.2 72.7,234.2" fill="#d6b67c"/>
<polygon points="72.7,231.0 81.3,231.0 84.8,234.2 72.7,234.2" fill="#c6a466"/>
<rect x="74.0" y="222.0" width="7.8" height="7.8" rx="0.0" fill="#fffbd2" />
<clipPath id="j1h2"><circle cx="154.6" cy="226.6" r="10.8"/></clipPath>
<circle cx="154.6" cy="226.6" r="10.8" fill="#16120c" />
<circle cx="154.8" cy="227.6" r="11.5" fill="#4f4430" clip-path="url(#j1h2)"/>
<rect x="142.2" y="234.0" width="24" height="2.2" fill="#2a2316" clip-path="url(#j1h2)"/>
<rect x="143.2" y="219.2" width="11.0" height="15.0" rx="0.0" fill="#4f4430" />
<polygon points="129.6,219.2 143.7,219.2 143.7,233.0 141.2,234.2 129.6,234.2" fill="#d6b67c"/>
<polygon points="129.6,231.0 138.2,231.0 141.7,234.2 129.6,234.2" fill="#c6a466"/>
<rect x="130.9" y="222.0" width="7.8" height="7.8" rx="0.0" fill="#fffbd2" />
<clipPath id="j1h3"><circle cx="211.0" cy="226.6" r="10.8"/></clipPath>
<circle cx="211.0" cy="226.6" r="10.8" fill="#16120c" />
<circle cx="211.2" cy="227.6" r="11.5" fill="#4f4430" clip-path="url(#j1h3)"/>
<rect x="198.6" y="234.0" width="24" height="2.2" fill="#2a2316" clip-path="url(#j1h3)"/>
<rect x="199.6" y="219.2" width="11.0" height="15.0" rx="0.0" fill="#4f4430" />
<polygon points="186.0,219.2 200.1,219.2 200.1,233.0 197.6,234.2 186.0,234.2" fill="#d6b67c"/>
<polygon points="186.0,231.0 194.6,231.0 198.1,234.2 186.0,234.2" fill="#c6a466"/>
<rect x="187.3" y="222.0" width="7.8" height="7.8" rx="0.0" fill="#fffbd2" />
<rect x="289.4" y="353.1" width="28.4" height="75.9" rx="5.0" fill="#e3e3e3" />
<rect x="387.7" y="353.1" width="29.1" height="75.9" rx="5.0" fill="#e3e3e3" />
<clipPath id="j2h0"><circle cx="901.0" cy="226.6" r="10.8"/></clipPath>
<circle cx="901.0" cy="226.6" r="10.8" fill="#8d8cb4" />
<circle cx="903.2" cy="227.6" r="11.2" fill="#15110b" clip-path="url(#j2h0)"/>
<rect x="890.0" y="219.3" width="16" height="16.5" fill="#3b2f1f" clip-path="url(#j2h0)"/>
<polygon points="897.0,234.3 905.0,234.3 900.0,238.8" fill="#f4f4e6" clip-path="url(#j2h0)"/>
<rect x="895.8" y="219.1" width="15.4" height="15.0" rx="0.0" fill="#d2b277" />
<rect x="895.8" y="219.1" width="4.0" height="15.0" rx="0.0" fill="#b8965c" />
<rect x="899.8" y="230.2" width="11.4" height="3.9" rx="0.0" fill="#c6a468" />
<rect x="899.8" y="222.3" width="7.8" height="7.8" rx="0.0" fill="#fffdd2" />
<clipPath id="j2h1"><circle cx="957.5" cy="226.6" r="10.8"/></clipPath>
<circle cx="957.5" cy="226.6" r="10.8" fill="#8d8cb4" />
<circle cx="959.7" cy="227.6" r="11.2" fill="#15110b" clip-path="url(#j2h1)"/>
<rect x="946.5" y="219.3" width="16" height="16.5" fill="#3b2f1f" clip-path="url(#j2h1)"/>
<polygon points="953.5,234.3 961.5,234.3 956.5,238.8" fill="#f4f4e6" clip-path="url(#j2h1)"/>
<rect x="953.9" y="219.1" width="15.4" height="15.0" rx="0.0" fill="#d2b277" />
<rect x="953.9" y="219.1" width="4.0" height="15.0" rx="0.0" fill="#b8965c" />
<rect x="957.9" y="230.2" width="11.4" height="3.9" rx="0.0" fill="#c6a468" />
<rect x="957.9" y="222.3" width="7.8" height="7.8" rx="0.0" fill="#fffdd2" />
<clipPath id="j2h2"><circle cx="1013.9" cy="226.6" r="10.8"/></clipPath>
<circle cx="1013.9" cy="226.6" r="10.8" fill="#8d8cb4" />
<circle cx="1016.1" cy="227.6" r="11.2" fill="#15110b" clip-path="url(#j2h2)"/>
<rect x="1002.9" y="219.3" width="16" height="16.5" fill="#3b2f1f" clip-path="url(#j2h2)"/>
<polygon points="1009.9,234.3 1017.9,234.3 1012.9,238.8" fill="#f4f4e6" clip-path="url(#j2h2)"/>
<rect x="1011.5" y="219.1" width="15.4" height="15.0" rx="0.0" fill="#d2b277" />
<rect x="1011.5" y="219.1" width="4.0" height="15.0" rx="0.0" fill="#b8965c" />
<rect x="1015.5" y="230.2" width="11.4" height="3.9" rx="0.0" fill="#c6a468" />
<rect x="1015.5" y="222.3" width="7.8" height="7.8" rx="0.0" fill="#fffdd2" />
<rect x="960.3" y="55.7" width="22.5" height="31.4" rx="6.0" fill="#e3e3e3" />
<rect x="1001.2" y="55.7" width="22.5" height="31.4" rx="6.0" fill="#e3e3e3" />
<rect x="970.3" y="57.0" width="45.9" height="27.1" rx="0.0" fill="#ffffff" />
<rect x="970.3" y="57.0" width="1.8" height="28.1" rx="0.0" fill="#4a4a4a" />
<rect x="970.3" y="83.7" width="45.9" height="1.4" rx="0.0" fill="#55524f" />
<rect x="978.8" y="57.0" width="30.4" height="27.1" rx="0.0" fill="#2f2f31" />
<rect x="960.3" y="106.6" width="22.5" height="31.4" rx="6.0" fill="#e3e3e3" />
<rect x="1001.2" y="106.6" width="22.5" height="31.4" rx="6.0" fill="#e3e3e3" />
<rect x="970.3" y="107.9" width="45.9" height="27.1" rx="0.0" fill="#ffffff" />
<rect x="970.3" y="107.9" width="1.8" height="28.1" rx="0.0" fill="#4a4a4a" />
<rect x="970.3" y="134.6" width="45.9" height="1.4" rx="0.0" fill="#55524f" />
<rect x="978.8" y="107.9" width="30.4" height="27.1" rx="0.0" fill="#2f2f31" />
<rect x="967.3" y="333.1" width="22.5" height="31.4" rx="6.0" fill="#e3e3e3" />
<rect x="1008.2" y="333.1" width="22.5" height="31.4" rx="6.0" fill="#e3e3e3" />
<rect x="977.3" y="334.4" width="45.9" height="27.1" rx="0.0" fill="#ffffff" />
<rect x="977.3" y="334.4" width="1.8" height="28.1" rx="0.0" fill="#4a4a4a" />
<rect x="977.3" y="361.1" width="45.9" height="1.4" rx="0.0" fill="#55524f" />
<rect x="985.8" y="334.4" width="30.4" height="27.1" rx="0.0" fill="#2f2f31" />
<rect x="967.3" y="384.4" width="22.5" height="31.4" rx="6.0" fill="#e3e3e3" />
<rect x="1008.2" y="384.4" width="22.5" height="31.4" rx="6.0" fill="#e3e3e3" />
<rect x="977.3" y="385.7" width="45.9" height="27.1" rx="0.0" fill="#ffffff" />
<rect x="977.3" y="385.7" width="1.8" height="28.1" rx="0.0" fill="#4a4a4a" />
<rect x="977.3" y="412.4" width="45.9" height="1.4" rx="0.0" fill="#55524f" />
<rect x="985.8" y="385.7" width="30.4" height="27.1" rx="0.0" fill="#2f2f31" />
<rect x="1196.0" y="71.3" width="22.5" height="31.4" rx="6.0" fill="#e3e3e3" />
<rect x="1236.9" y="71.3" width="22.5" height="31.4" rx="6.0" fill="#e3e3e3" />
<rect x="1206.0" y="72.6" width="45.9" height="27.1" rx="0.0" fill="#ffffff" />
<rect x="1206.0" y="72.6" width="1.8" height="28.1" rx="0.0" fill="#4a4a4a" />
<rect x="1206.0" y="99.3" width="45.9" height="1.4" rx="0.0" fill="#55524f" />
<rect x="1214.5" y="72.6" width="30.4" height="27.1" rx="0.0" fill="#2f2f31" />
<rect x="1351.4" y="71.3" width="22.5" height="31.4" rx="6.0" fill="#e3e3e3" />
<rect x="1392.3" y="71.3" width="22.5" height="31.4" rx="6.0" fill="#e3e3e3" />
<rect x="1361.4" y="72.6" width="45.9" height="27.1" rx="0.0" fill="#ffffff" />
<rect x="1361.4" y="72.6" width="1.8" height="28.1" rx="0.0" fill="#4a4a4a" />
<rect x="1361.4" y="99.3" width="45.9" height="1.4" rx="0.0" fill="#55524f" />
<rect x="1369.9" y="72.6" width="30.4" height="27.1" rx="0.0" fill="#2f2f31" />
<rect x="747.0" y="219.4" width="21.0" height="31.5" rx="6.0" fill="#e3e3e3" />
<rect x="790.0" y="219.4" width="21.0" height="31.5" rx="6.0" fill="#e3e3e3" />
<rect x="755.5" y="220.6" width="47.0" height="28.1" rx="0.0" fill="#ffffff" />
<rect x="765.0" y="220.6" width="26.5" height="28.1" rx="0.0" fill="#b8917f" />
<rect x="747.0" y="268.3" width="21.0" height="32.0" rx="6.0" fill="#e3e3e3" />
<rect x="790.0" y="268.3" width="21.0" height="32.0" rx="6.0" fill="#e3e3e3" />
<rect x="755.5" y="269.5" width="47.0" height="28.6" rx="0.0" fill="#ffffff" />
<rect x="765.0" y="269.5" width="26.5" height="28.6" rx="0.0" fill="#b8917f" />
<rect x="1082.2" y="187.2" width="12.8" height="14.0" rx="0.0" fill="#dcdcdc" />
<rect x="1094.0" y="187.6" width="37.0" height="13.2" rx="0.0" fill="#fbfbfb" />
<rect x="1119.0" y="187.6" width="6.0" height="13.2" rx="0.0" fill="#6b6b6b" />
<rect x="1229.0" y="187.6" width="27.0" height="13.2" rx="0.0" fill="#fbfbfb" />
<rect x="1255.0" y="187.2" width="12.2" height="14.0" rx="0.0" fill="#dcdcdc" />
<rect x="1082.2" y="243.4" width="12.8" height="14.0" rx="0.0" fill="#dcdcdc" />
<rect x="1094.0" y="243.8" width="37.0" height="13.2" rx="0.0" fill="#fbfbfb" />
<rect x="1119.0" y="243.8" width="6.0" height="13.2" rx="0.0" fill="#6b6b6b" />
<rect x="1229.0" y="243.8" width="27.0" height="13.2" rx="0.0" fill="#fbfbfb" />
<rect x="1255.0" y="243.4" width="12.2" height="14.0" rx="0.0" fill="#dcdcdc" />
<path d="M1134.1,182.0 L1226.0,182.0 Q1229.0,182.0 1229.0,185.0 L1229.0,258.3 Q1229.0,261.3 1226.0,261.3 L1132.6,261.3 Q1129.6,261.3 1129.6,258.3 L1129.6,187.0 Z" fill="#1a1918"/>
<path d="M1139.6,184.1 L1224.5,184.1 Q1227.3,184.1 1227.3,187.0 L1227.3,256.3 Q1227.3,259.1 1224.5,259.1 L1139.1,259.1 Q1136.2,259.1 1136.2,256.3 L1136.2,187.5 Z" fill="#63605e"/>
<circle cx="1217.0" cy="247.6" r="2.0" fill="#dcd6c0" />
<rect x="1082.2" y="331.6" width="12.8" height="14.0" rx="0.0" fill="#dcdcdc" />
<rect x="1094.0" y="332.0" width="37.0" height="13.2" rx="0.0" fill="#fbfbfb" />
<rect x="1119.0" y="332.0" width="6.0" height="13.2" rx="0.0" fill="#6b6b6b" />
<rect x="1229.0" y="332.0" width="27.0" height="13.2" rx="0.0" fill="#fbfbfb" />
<rect x="1255.0" y="331.6" width="12.2" height="14.0" rx="0.0" fill="#dcdcdc" />
<rect x="1082.2" y="387.8" width="12.8" height="14.0" rx="0.0" fill="#dcdcdc" />
<rect x="1094.0" y="388.2" width="37.0" height="13.2" rx="0.0" fill="#fbfbfb" />
<rect x="1119.0" y="388.2" width="6.0" height="13.2" rx="0.0" fill="#6b6b6b" />
<rect x="1229.0" y="388.2" width="27.0" height="13.2" rx="0.0" fill="#fbfbfb" />
<rect x="1255.0" y="387.8" width="12.2" height="14.0" rx="0.0" fill="#dcdcdc" />
<path d="M1134.1,327.0 L1226.0,327.0 Q1229.0,327.0 1229.0,330.0 L1229.0,404.4 Q1229.0,407.4 1226.0,407.4 L1132.6,407.4 Q1129.6,407.4 1129.6,404.4 L1129.6,332.0 Z" fill="#1a1918"/>
<path d="M1139.6,329.1 L1224.5,329.1 Q1227.3,329.1 1227.3,332.0 L1227.3,402.4 Q1227.3,405.2 1224.5,405.2 L1139.1,405.2 Q1136.2,405.2 1136.2,402.4 L1136.2,332.5 Z" fill="#63605e"/>
<circle cx="1217.0" cy="395.4" r="2.0" fill="#dcd6c0" />
<rect x="1183.1" y="23.6" width="24.0" height="19.9" rx="0.0" fill="#e3e3e3" />
<rect x="1254.1" y="23.6" width="18.2" height="19.9" rx="0.0" fill="#e3e3e3" />
<rect x="1214.1" y="42.2" width="8.7" height="10.6" rx="0.0" fill="#e2e2e2" />
<rect x="1231.5" y="42.2" width="9.1" height="10.6" rx="0.0" fill="#e2e2e2" />
<clipPath id="c1202"><rect x="1192.1" y="0" width="90" height="16"/></clipPath>
<circle cx="1228.4" cy="14.9" r="24.8" fill="#38383c" clip-path="url(#c1202)"/>
<polygon points="1194.9,19.8 1202.1,15.9 1202.1,38.8 1194.9,41.6" fill="#333338"/>
<polygon points="1194.9,41.6 1202.1,38.6 1270.0,38.6 1261.1,41.6" fill="#2c2c30"/>
<polygon points="1221.1,41.9 1229.1,38.3 1245.1,38.3 1239.1,41.9" fill="#a59d2e"/>
<circle cx="1235.9" cy="14.9" r="24.8" fill="#ffffff" clip-path="url(#c1202)"/>
<rect x="1202.1" y="15.9" width="67.9" height="22.9" rx="0.0" fill="#ffffff" />
<rect x="1341.1" y="23.6" width="24.0" height="19.9" rx="0.0" fill="#e3e3e3" />
<rect x="1412.1" y="23.6" width="18.2" height="19.9" rx="0.0" fill="#e3e3e3" />
<rect x="1372.1" y="42.2" width="8.7" height="10.6" rx="0.0" fill="#e2e2e2" />
<rect x="1389.5" y="42.2" width="9.1" height="10.6" rx="0.0" fill="#e2e2e2" />
<clipPath id="c1360"><rect x="1350.1" y="0" width="90" height="16"/></clipPath>
<circle cx="1386.4" cy="14.9" r="24.8" fill="#38383c" clip-path="url(#c1360)"/>
<polygon points="1352.9,19.8 1360.1,15.9 1360.1,38.8 1352.9,41.6" fill="#333338"/>
<polygon points="1352.9,41.6 1360.1,38.6 1428.0,38.6 1419.1,41.6" fill="#2c2c30"/>
<polygon points="1379.1,41.9 1387.1,38.3 1403.1,38.3 1397.1,41.9" fill="#a59d2e"/>
<circle cx="1393.9" cy="14.9" r="24.8" fill="#ffffff" clip-path="url(#c1360)"/>
<rect x="1360.1" y="15.9" width="67.9" height="22.9" rx="0.0" fill="#ffffff" />
<rect x="1416.0" y="263.2" width="9.3" height="13.0" rx="3.2" fill="#e6e6e6" />
<rect x="1375.4" y="236.5" width="40.6" height="66.7" rx="2.5" fill="#121212" />
<rect x="1381.8" y="237.2" width="34.2" height="65.6" rx="2.5" fill="#232222" />
<rect x="1388.0" y="238.4" width="27.4" height="63.9" rx="2.0" fill="#625f5e" />
<rect x="1351.2" y="242.7" width="30.1" height="12.2" rx="3.5" fill="#e9e9e9" />
<rect x="1360.0" y="244.0" width="2.2" height="9.6" rx="0.0" fill="#9a9a9a" />
<rect x="1366.5" y="243.2" width="3.0" height="11.2" rx="0.0" fill="#a8a8a8" />
<rect x="1369.5" y="243.2" width="5.5" height="11.2" rx="0.0" fill="#5c5c5c" />
<rect x="1375.0" y="243.0" width="6.3" height="11.6" rx="0.0" fill="#f6f6f6" />
<rect x="1351.2" y="284.6" width="30.1" height="12.2" rx="3.5" fill="#e9e9e9" />
<rect x="1360.0" y="285.9" width="2.2" height="9.6" rx="0.0" fill="#9a9a9a" />
<rect x="1366.5" y="285.1" width="3.0" height="11.2" rx="0.0" fill="#a8a8a8" />
<rect x="1369.5" y="285.1" width="5.5" height="11.2" rx="0.0" fill="#5c5c5c" />
<rect x="1375.0" y="284.9" width="6.3" height="11.6" rx="0.0" fill="#f6f6f6" />
<clipPath id="rp0"><circle cx="1483" cy="150.9" r="10.9"/></clipPath>
<circle cx="1483.0" cy="150.9" r="10.9" fill="#0f0e0d" />
<circle cx="1483" cy="149.2" r="11.3" fill="#2b2a28" clip-path="url(#rp0)"/>
<polygon points="1483,139.9 1491,139.7 1491,157.8 1483,159.7" fill="#3b3a37"/>
<polygon points="1490,139.6 1511.5,139.6 1514.8,142.9 1514.8,154.4 1511.5,157.6 1490,157.8" fill="#6e6d6a"/>
<polygon points="1490,139.6 1511.5,139.6 1514.8,142.9 1503.7,142.9 1490,142.6" fill="#8a8986"/>
<rect x="1490.0" y="139.6" width="5.0" height="18.2" rx="0.0" fill="#55544f" />
<rect x="1503.7" y="143.0" width="10.2" height="9.8" rx="0.0" fill="#fdfdfd" />
<clipPath id="rp1"><circle cx="1483" cy="228.8" r="10.9"/></clipPath>
<circle cx="1483.0" cy="228.8" r="10.9" fill="#0f0e0d" />
<circle cx="1483" cy="227.1" r="11.3" fill="#2b2a28" clip-path="url(#rp1)"/>
<polygon points="1483,217.8 1491,217.6 1491,235.7 1483,237.6" fill="#3b3a37"/>
<polygon points="1490,217.5 1511.5,217.5 1514.8,220.8 1514.8,232.3 1511.5,235.5 1490,235.7" fill="#6e6d6a"/>
<polygon points="1490,217.5 1511.5,217.5 1514.8,220.8 1503.7,220.8 1490,220.5" fill="#8a8986"/>
<rect x="1490.0" y="217.5" width="5.0" height="18.2" rx="0.0" fill="#55544f" />
<rect x="1503.7" y="220.9" width="10.2" height="9.8" rx="0.0" fill="#fdfdfd" />
<clipPath id="rp2"><circle cx="1483" cy="307.1" r="10.9"/></clipPath>
<circle cx="1483.0" cy="307.1" r="10.9" fill="#0f0e0d" />
<circle cx="1483" cy="305.4" r="11.3" fill="#2b2a28" clip-path="url(#rp2)"/>
<polygon points="1483,296.1 1491,295.9 1491,314.0 1483,315.9" fill="#3b3a37"/>
<polygon points="1490,295.8 1511.5,295.8 1514.8,299.1 1514.8,310.6 1511.5,313.8 1490,314.0" fill="#6e6d6a"/>
<polygon points="1490,295.8 1511.5,295.8 1514.8,299.1 1503.7,299.1 1490,298.8" fill="#8a8986"/>
<rect x="1490.0" y="295.8" width="5.0" height="18.2" rx="0.0" fill="#55544f" />
<rect x="1503.7" y="299.2" width="10.2" height="9.8" rx="0.0" fill="#fdfdfd" />
<clipPath id="rp3"><circle cx="1483" cy="385.3" r="10.9"/></clipPath>
<circle cx="1483.0" cy="385.3" r="10.9" fill="#0f0e0d" />
<circle cx="1483" cy="383.6" r="11.3" fill="#2b2a28" clip-path="url(#rp3)"/>
<polygon points="1483,374.3 1491,374.1 1491,392.2 1483,394.1" fill="#3b3a37"/>
<polygon points="1490,374.0 1511.5,374.0 1514.8,377.3 1514.8,388.8 1511.5,392.0 1490,392.2" fill="#6e6d6a"/>
<polygon points="1490,374.0 1511.5,374.0 1514.8,377.3 1503.7,377.3 1490,377.0" fill="#8a8986"/>
<rect x="1490.0" y="374.0" width="5.0" height="18.2" rx="0.0" fill="#55544f" />
<rect x="1503.7" y="377.4" width="10.2" height="9.8" rx="0.0" fill="#fdfdfd" />
<linearGradient id="ovg" x1="0" y1="0" x2="0" y2="1"><stop offset="0" stop-color="#908fad"/><stop offset="1" stop-color="#8483a1"/></linearGradient>
<rect x="751.6" y="388" width="91.2" height="64.4" rx="34.5" ry="32" fill="#1b1411"/>
<rect x="751.6" y="382.1" width="91.2" height="64.5" rx="34.5" ry="32" fill="url(#ovg)"/>
<polygon points="0,0 20.7,0 20.7,0.8 0,21.5" fill="#b4b4d0"/>
<polygon points="1618,0 1596,0 1596,0.8 1618,23" fill="#b4b4d0"/>
<rect x="0" y="0" width="1618" height="0.9" fill="#a9a9c4"/>
<rect x="1616.7" y="24" width="1.3" height="459" fill="#153020"/>
</svg>
</body></html>
